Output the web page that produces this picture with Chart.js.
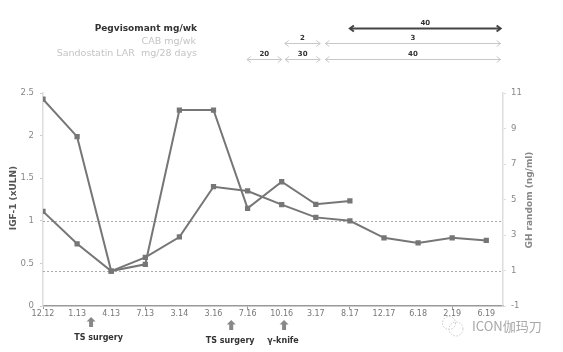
<!DOCTYPE html>
<html>
<head>
<meta charset="utf-8">
<script src="https://cdn.jsdelivr.net/npm/chart.js@4.4.0/dist/chart.umd.min.js"></script>
<style>
  body { margin: 0; background: #fff; }
  #wrap { width: 563px; height: 352px; }
</style>
</head>
<body>
<div id="wrap"><canvas id="chart" width="563" height="352"></canvas></div>
<script>
// --- DATA ---
const dates = ['12.12', '1.13', '4.13', '7.13', '3.14', '3.16', '7.16', '10.16', '3.17', '8.17', '12.17', '6.18', '2.19', '6.19'];
const igf1 = [1.11, 0.73, 0.41, 0.57, 0.81, 1.40, 1.35, 1.19, 1.04, 1.00, 0.80, 0.74, 0.80, 0.77];
const ghRandom = [10.65, 8.54, 0.97, 1.35, 10.04, 10.04, 4.5, 6.0, 4.73, 4.92];
const igfTicks = [0, 0.5, 1, 1.5, 2, 2.5];
const ghTicks = [-1, 1, 3, 5, 7, 9, 11];
const igfRef = 1.0;   // ULN
const ghRef = 1.0;

// treatment periods, in category positions
const pegLabel = 'Pegvisomant mg/wk';
const pegDoses = ['40'];
const pegSpans = [[9.0, 13.42]];
const cabLabel = 'CAB mg/wk';
const cabDoses = ['2', '3'];
const cabSpans = [[7.09, 8.13], [8.28, 13.42]];
const larLabel = 'Sandostatin LAR  mg/28 days';
const larDoses = ['20', '30', '40'];
const larSpans = [[5.98, 7.0], [7.1, 8.13], [8.28, 13.42]];

// events under the axis
const events = ['TS surgery', 'TS surgery', 'γ-knife'];
const eventAt = [1.41, 5.52, 7.07];
const eventTextAt = [1.63, 5.49, 7.04];

const FONT = '"DejaVu Sans", Verdana, sans-serif';
const lineGray = '#767676';

function chevron(ctx, x, y, dir, w, h) {
  ctx.beginPath();
  ctx.moveTo(x - dir * w, y - h);
  ctx.lineTo(x, y);
  ctx.lineTo(x - dir * w, y + h);
  ctx.stroke();
}

function drawSpanRow(ctx, xs, spans, doses, y, opt) {
  spans.forEach((s, i) => {
    const x1 = xs.getPixelForValue(s[0]);
    const x2 = xs.getPixelForValue(s[1]);
    ctx.strokeStyle = opt.color;
    ctx.lineWidth = opt.width;
    ctx.beginPath();
    ctx.moveTo(x1, y);
    ctx.lineTo(x2, y);
    ctx.stroke();
    chevron(ctx, x1, y, -1, opt.head, opt.head * 0.75);
    chevron(ctx, x2, y, 1, opt.head, opt.head * 0.75);
    ctx.fillStyle = '#333';
    ctx.font = 'bold 7px ' + FONT;
    ctx.textAlign = 'center';
    ctx.textBaseline = 'middle';
    ctx.fillText(doses[i], (x1 + x2) / 2, y - 5);
  });
}

const decorPlugin = {
  id: 'decor',
  beforeDatasetsDraw(chart) {
    const ctx = chart.ctx;
    const area = chart.chartArea;
    ctx.save();
    ctx.strokeStyle = '#aaa';
    ctx.lineWidth = 1;
    ctx.setLineDash([2, 2]);
    [chart.scales.y.getPixelForValue(igfRef), chart.scales.y1.getPixelForValue(ghRef)].forEach(py => {
      ctx.beginPath();
      ctx.moveTo(area.left, Math.round(py) + 0.5);
      ctx.lineTo(area.right, Math.round(py) + 0.5);
      ctx.stroke();
    });
    ctx.restore();
  },
  afterDraw(chart) {
    const ctx = chart.ctx;
    const xs = chart.scales.x;
    ctx.save();

    // axis titles
    ctx.textAlign = 'center';
    ctx.textBaseline = 'middle';
    ctx.save();
    ctx.translate(14, 198);
    ctx.rotate(-Math.PI / 2);
    ctx.fillStyle = '#555';
    ctx.font = 'bold 9px ' + FONT;
    ctx.fillText('IGF-1 (xULN)', 0, 0);
    ctx.restore();
    ctx.save();
    ctx.translate(530, 200);
    ctx.rotate(-Math.PI / 2);
    ctx.fillStyle = '#888';
    ctx.font = 'bold 9px ' + FONT;
    ctx.fillText('GH random (ng/ml)', 0, 0);
    ctx.restore();

    // treatment labels
    ctx.textAlign = 'right';
    ctx.font = 'bold 9px ' + FONT;
    ctx.fillStyle = '#333';
    ctx.fillText(pegLabel, 197, 28.5);
    ctx.font = '9.5px ' + FONT;
    ctx.fillStyle = '#c4c4c4';
    ctx.fillText(cabLabel, 196, 41.5);
    ctx.fillText(larLabel, 197, 53.5);

    drawSpanRow(ctx, xs, pegSpans, pegDoses, 28.5, { color: '#444', width: 2, head: 4 });
    drawSpanRow(ctx, xs, cabSpans, cabDoses, 43.5, { color: '#c8c8c8', width: 1, head: 4 });
    drawSpanRow(ctx, xs, larSpans, larDoses, 59.5, { color: '#c8c8c8', width: 1, head: 4 });

    // event arrows
    events.forEach((name, i) => {
      const ax = xs.getPixelForValue(eventAt[i]);
      const top = i === 0 ? 317 : 320;
      ctx.fillStyle = '#888';
      ctx.beginPath();
      ctx.moveTo(ax, top);
      ctx.lineTo(ax + 4.5, top + 4.5);
      ctx.lineTo(ax + 2, top + 4.5);
      ctx.lineTo(ax + 2, top + 10);
      ctx.lineTo(ax - 2, top + 10);
      ctx.lineTo(ax - 2, top + 4.5);
      ctx.lineTo(ax - 4.5, top + 4.5);
      ctx.closePath();
      ctx.fill();
      ctx.fillStyle = '#333';
      ctx.font = 'bold 8px ' + FONT;
      ctx.textAlign = 'center';
      ctx.textBaseline = 'middle';
      ctx.fillText(name, xs.getPixelForValue(eventTextAt[i]), top + 21);
    });

    // watermark
    ctx.strokeStyle = '#c8c8c8';
    ctx.lineWidth = 1;
    ctx.setLineDash([1.5, 1.5]);
    ctx.beginPath();
    ctx.arc(449, 323, 6.5, 0, Math.PI * 2);
    ctx.stroke();
    ctx.beginPath();
    ctx.arc(456, 329, 7, 0, Math.PI * 2);
    ctx.stroke();
    ctx.setLineDash([]);
    ctx.fillStyle = '#a8a8a8';
    ctx.font = '13px "Noto Sans CJK SC", "Noto Sans", sans-serif';
    ctx.textAlign = 'left';
    ctx.fillText('ICON伽玛刀', 472, 326);

    ctx.restore();
  }
};

const ctx = document.getElementById('chart').getContext('2d');
new Chart(ctx, {
  type: 'line',
  data: {
    datasets: [
      {
        label: 'IGF-1',
        data: igf1.map((v, i) => ({ x: i, y: v })),
        yAxisID: 'y',
        borderColor: lineGray,
        backgroundColor: lineGray,
        borderWidth: 2,
        pointStyle: 'rect',
        pointRadius: 2.3,
        tension: 0
      },
      {
        label: 'GH',
        data: ghRandom.map((v, i) => ({ x: i, y: v })),
        yAxisID: 'y1',
        borderColor: lineGray,
        backgroundColor: lineGray,
        borderWidth: 2,
        pointStyle: 'rect',
        pointRadius: 2.3,
        tension: 0
      }
    ]
  },
  options: {
    responsive: false,
    animation: false,
    layout: { padding: { top: 93, bottom: 0, left: 0, right: 0 } },
    plugins: { legend: { display: false }, tooltip: { enabled: false } },
    scales: {
      x: {
        type: 'linear',
        min: 0,
        max: 13.49,
        afterFit: s => { s.height = 46; },
        border: { color: '#999', width: 1.5 },
        grid: {
          drawOnChartArea: false,
          tickLength: 3,
          color: c => (c.tick && Number.isInteger(c.tick.value) && c.tick.value % 3 === 0) ? '#999' : 'rgba(0,0,0,0)'
        },
        ticks: {
          stepSize: 1,
          includeBounds: false,
          autoSkip: false,
          maxRotation: 0,
          padding: 0,
          color: '#777',
          font: { family: FONT, size: 8 },
          callback: v => Number.isInteger(v) ? (dates[v] || '') : ''
        }
      },
      y: {
        position: 'left',
        min: igfTicks[0],
        max: igfTicks[igfTicks.length - 1],
        afterFit: s => { s.width = 43; },
        afterBuildTicks: s => { s.ticks = igfTicks.map(v => ({ value: v })); },
        border: { color: '#ddd', width: 1.5 },
        grid: { drawOnChartArea: false, tickLength: 3, color: '#ccc' },
        ticks: { padding: 6, color: '#888', font: { family: FONT, size: 8.5 }, callback: v => String(v) }
      },
      y1: {
        position: 'right',
        min: ghTicks[0],
        max: ghTicks[ghTicks.length - 1],
        afterFit: s => { s.width = 60; },
        afterBuildTicks: s => { s.ticks = ghTicks.map(v => ({ value: v })); },
        border: { color: '#ddd', width: 1.5 },
        grid: { drawOnChartArea: false, tickLength: 3, color: '#ddd' },
        ticks: { padding: 5, color: '#888', font: { family: FONT, size: 8.5 }, callback: v => String(v) }
      }
    }
  },
  plugins: [decorPlugin]
});
</script>
</body>
</html>
